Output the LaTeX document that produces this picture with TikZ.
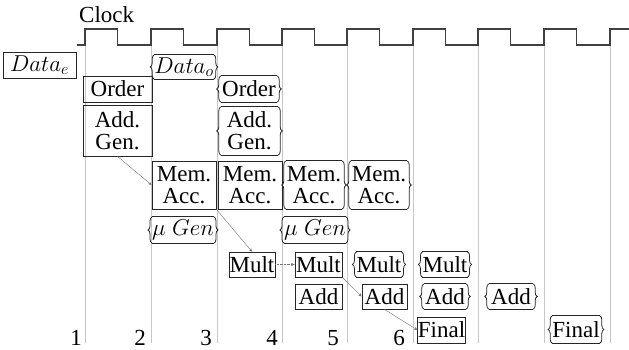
\RequirePackage{fix-cm}
\documentclass[tikz,border=0pt]{standalone}
\usepackage{fontspec}
\setmainfont{Liberation Serif}
\usetikzlibrary{arrows.meta,decorations.pathreplacing}

\tikzset{
  lbl/.style={font=\fontsize{23}{22}\selectfont, inner sep=0pt, align=center},
  plainbox/.style={lbl, draw=black!85, line width=0.8pt},
  bracebox/.style={lbl},
  braceside/.style={draw=black!85, line width=0.8pt, decorate,
    decoration={brace, amplitude=4pt}},
  boxedge/.style={draw=black!85, line width=0.8pt},
  grid/.style={draw=black!22, line width=0.8pt},
  clockline/.style={draw=black!75, line width=1.1pt},
  flow/.style={draw=black!55, line width=0.4pt,
    -{Stealth[length=3.5pt,width=3pt]}},
}

% outline with brace-shaped sides around a named node
\newcommand\braceframe[1]{%
  \draw[boxedge] (#1.north west) -- (#1.north east);
  \draw[boxedge] (#1.south west) -- (#1.south east);
  \draw[braceside] (#1.south west) -- (#1.north west);
  \draw[braceside] (#1.north east) -- (#1.south east);
}

% box from its corners: \mkbox{style}{name}{x1}{x2}{y1}{y2}{text}
\newcommand\mkbox[7]{%
  \node[#1, minimum width={(#4)-(#3)}, minimum height={(#6)-(#5)}]
    (#2) at ({((#3)+(#4))/2},{((#5)+(#6))/2}) {#7};
}

\begin{document}
\begin{tikzpicture}[x=1pt,y=-1pt]
\useasboundingbox (0,0) rectangle (629,349);

% clock lanes
\foreach \r in {85,151,217,282,347,413,478,544,610}
  \draw[grid] (\r,45) -- (\r,343);

% clock waveform
\draw[clockline] (77,45)
  \foreach \r in {85,151,217,282,347,413,478,544}
    { -- (\r,45) -- (\r,29) -- ({\r+32.5},29) -- ({\r+32.5},45) }
  -- (610,45) -- (610,29) -- (629,29);
\node[lbl, anchor=base west] (clk) at (79,22) {Clock};

% cycle numbers
\node[lbl, anchor=base east] (n1) at (82,345) {1};
\node[lbl, anchor=base east] (n2) at (146,345) {2};
\node[lbl, anchor=base east] (n3) at (212,345) {3};
\node[lbl, anchor=base east] (n4) at (278,345) {4};
\node[lbl, anchor=base east] (n5) at (339,345) {5};
\node[lbl, anchor=base east] (n6) at (405,345) {6};

% stages, plain outline
\mkbox{plainbox}{de}{3}{76}{52}{78}{$Data_e$}
\mkbox{plainbox}{ord1}{83}{152}{76}{102}{Order}
\mkbox{plainbox}{ag1}{83}{152}{105}{156}{Add.\\Gen.}
\mkbox{plainbox}{ma2}{152}{216}{161}{209}{Mem.\\Acc.}
\mkbox{plainbox}{ma3}{218}{282}{161}{209}{Mem.\\Acc.}
\mkbox{plainbox}{mu3}{229}{275}{252}{277}{Mult}
\mkbox{plainbox}{mu4}{295}{342}{252}{277}{Mult}
\mkbox{plainbox}{ad4}{295}{342}{284}{309}{Add}
\mkbox{plainbox}{ad5}{362}{407}{284}{309}{Add}
\mkbox{plainbox}{fi6}{418}{465}{317}{343}{Final}

% stages, brace outline
\mkbox{bracebox}{do}{156}{212}{55}{79}{$Data_o$}
\mkbox{bracebox}{ord3}{221}{277}{76}{102}{Order}
\mkbox{bracebox}{ag3}{221}{278}{107}{155}{Add.\\Gen.}
\mkbox{bracebox}{ma4}{286}{342}{161}{209}{Mem.\\Acc.}
\mkbox{bracebox}{ma5}{351}{407}{161}{209}{Mem.\\Acc.}
\mkbox{bracebox}{mg2}{154}{212}{217}{243}{$\mu\;Gen$}
\mkbox{bracebox}{mg4}{287}{343}{217}{243}{$\mu\;Gen$}
\mkbox{bracebox}{mu5}{357}{401}{252}{277}{Mult}
\mkbox{bracebox}{mu6}{424}{466}{252}{277}{Mult}
\mkbox{bracebox}{ad6}{424}{466}{284}{309}{Add}
\mkbox{bracebox}{ad7}{489}{533}{284}{309}{Add}
\mkbox{bracebox}{fi8}{554}{598}{316}{343}{Final}

\foreach \b in {do,ord3,ag3,ma4,ma5,mg2,mg4,mu5,mu6,ad6,ad7,fi8}
  {\braceframe{\b}}

% data dependencies
\draw[flow] (ag1.south) -- (ma2.west);
\draw[flow] (ma2.south east) -- (mu3.north);
\draw[flow, densely dotted] (mu3.east) -- (mu4.west);
\draw[flow] (mu4.south east) -- (ad5.west);
\draw[flow] (ad5.south) -- (fi6.west);
\end{tikzpicture}
\end{document}
